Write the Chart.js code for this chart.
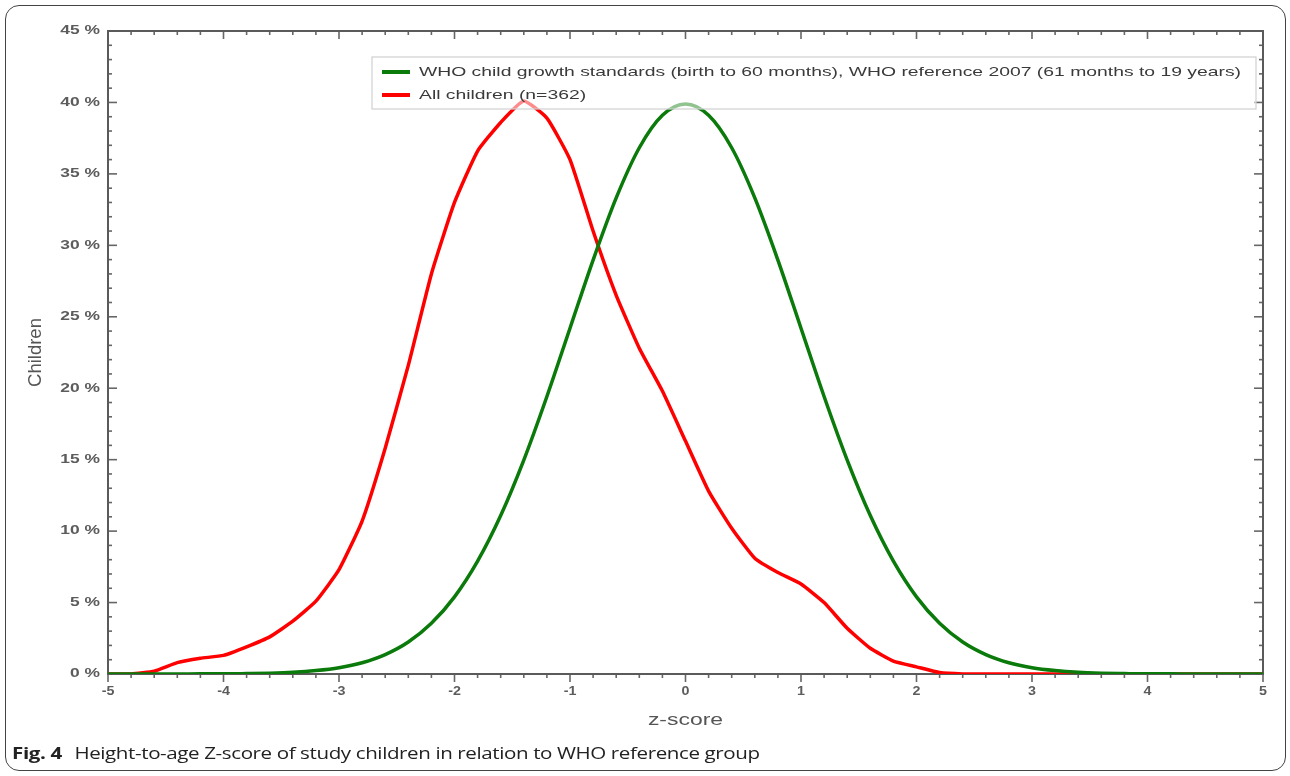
<!DOCTYPE html>
<html><head><meta charset="utf-8">
<script src="https://cdn.jsdelivr.net/npm/chart.js@4.4.1/dist/chart.umd.min.js"></script>
<style>
html,body{margin:0;padding:0;background:#fff;}
#wrap{position:relative;width:1290px;height:776px;overflow:hidden;background:#fff;}
#frame{position:absolute;left:5px;top:5px;width:1281px;height:766px;border:1.5px solid #444;border-radius:14px;box-sizing:border-box;}
#c{position:absolute;left:0;top:0;}
#cap{position:absolute;left:12px;top:742px;font-family:"Open Sans","Noto Sans",sans-serif;font-size:16px;color:#222;white-space:nowrap;letter-spacing:-0.3px;transform-origin:0 0;}
#cap b{font-weight:700;margin-right:6px;}
</style></head>
<body>
<div id="wrap">
<div id="frame"></div>
<canvas id="c" width="1290" height="776"></canvas>
<div id="cap"><b>Fig. 4</b> Height-to-age Z-score of study children in relation to WHO reference group</div>
</div>
<script>
// z-score categories (step 0.2)
const zScores = [-5,-4.8,-4.6,-4.4,-4.2,-4,-3.8,-3.6,-3.4,-3.2,-3,-2.8,-2.6,-2.4,-2.2,-2,-1.8,-1.6,-1.4,-1.2,-1,-0.8,-0.6,-0.4,-0.2,0,0.2,0.4,0.6,0.8,1,1.2,1.4,1.6,1.8,2,2.2,2.4,2.6,2.8,3,3.2,3.4,3.6,3.8,4,4.2,4.4,4.6,4.8,5];
// WHO reference (% of children)
const whoValues = [0,0,0,0,0.01,0.01,0.03,0.06,0.12,0.24,0.44,0.79,1.36,2.24,3.55,5.40,7.90,11.09,14.97,19.42,24.20,28.97,33.32,36.83,39.10,39.89,39.10,36.83,33.32,28.97,24.20,19.42,14.97,11.09,7.90,5.40,3.55,2.24,1.36,0.79,0.44,0.24,0.12,0.06,0.03,0.01,0.01,0,0,0,0];
// All children (n=362), % of children
const childValues = [0,0,0.2,0.8,1.1,1.3,1.9,2.6,3.7,5.1,7.3,10.7,15.8,21.6,28.0,33.0,36.6,38.6,40.1,38.9,36.0,31.0,26.5,22.8,19.8,16.3,12.8,10.2,8.1,7.1,6.3,5.0,3.2,1.8,0.9,0.5,0.1,0,0,0,0,0,0,0,0,0,0,0,0,0,0];
const seriesLabels = ["WHO child growth standards (birth to 60 months), WHO reference 2007 (61 months to 19 years)", "All children (n=362)"];
const xAxisTitle = "z-score";
const yAxisTitle = "Children";

const pts = vals => zScores.map((z,i)=>({x:z,y:vals[i]}));
const FONT = '"Liberation Sans", Arial, sans-serif';

function sText(ctx,text,x,y,sx,align){
  ctx.save();ctx.translate(x,y);ctx.scale(sx,1);ctx.textAlign=align;ctx.fillText(text,0,0);ctx.restore();
}

const decor = {
  id:'decor',
  beforeDatasetsDraw(c){
    const ctx=c.ctx,a=c.chartArea,xs=c.scales.x,ys=c.scales.y;
    ctx.save();
    ctx.strokeStyle='#666';ctx.lineWidth=1.6;
    const ln=(x1,y1,x2,y2)=>{ctx.beginPath();ctx.moveTo(x1,y1);ctx.lineTo(x2,y2);ctx.stroke();};
    for(let i=0;i<=50;i++){
      const px=xs.getPixelForValue(xs.min+i*0.2);
      const major=i%5===0, len=major?8:4;
      ln(px,a.bottom,px,a.bottom+len);
      ln(px,a.top,px,a.top+len);
    }
    for(let i=0;i<=45;i++){
      const py=ys.getPixelForValue(i);
      const major=i%5===0, len=major?9:4;
      ln(a.left,py,a.left+len,py);
      ln(a.right,py,a.right-len,py);
    }
    ctx.strokeStyle='#5a5a5a';ctx.lineWidth=2;
    ctx.strokeRect(a.left,a.top,a.right-a.left,a.bottom-a.top);
    // tick labels from the library's scales
    ctx.fillStyle='#5c5c5c';ctx.textBaseline='middle';
    ctx.font='bold 12px '+FONT;
    ys.ticks.forEach(t=>sText(ctx,t.value+' %',a.left-8,ys.getPixelForValue(t.value),1.45,'right'));
    ctx.font='bold 13px '+FONT;
    xs.ticks.forEach(t=>sText(ctx,String(t.value),xs.getPixelForValue(t.value),691,1.1,'center'));
    // axis titles
    ctx.fillStyle='#555';
    ctx.font='17px '+FONT;
    sText(ctx,xAxisTitle,(a.left+a.right)/2,720,1.35,'center');
    ctx.translate(36,(a.top+a.bottom)/2);
    ctx.rotate(-Math.PI/2);
    ctx.font='18.5px '+FONT;
    ctx.textAlign='center';
    ctx.fillText(yAxisTitle,0,0);
    ctx.restore();
  },
  afterDatasetsDraw(c){
    const ctx=c.ctx;
    ctx.save();
    const bx=372,by=57,bw=884,bh=52;
    ctx.fillStyle='rgba(255,255,255,0.55)';
    ctx.fillRect(bx,by,bw,bh);
    ctx.strokeStyle='#d0d0d0';ctx.lineWidth=1.2;
    ctx.strokeRect(bx,by,bw,bh);
    ctx.font='13.5px '+FONT;
    ctx.textBaseline='middle';
    const w0=ctx.measureText(c.data.datasets[0].label).width;
    const sx=822/w0;
    c.data.datasets.forEach((d,i)=>{
      const y=by+15+i*23;
      ctx.strokeStyle=d.borderColor;ctx.lineWidth=4;
      ctx.beginPath();ctx.moveTo(382,y);ctx.lineTo(410,y);ctx.stroke();
      ctx.fillStyle='#3a3a3a';
      sText(ctx,d.label,419,y,sx,'left');
    });
    ctx.restore();
  }
};

new Chart(document.getElementById('c'),{
  type:'line',
  data:{datasets:[
    {label:seriesLabels[0],data:pts(whoValues),borderColor:'#0a7a0a',borderWidth:3.5,pointRadius:0,cubicInterpolationMode:'monotone',fill:false},
    {label:seriesLabels[1],data:pts(childValues),borderColor:'#ff0000',borderWidth:3.5,pointRadius:0,tension:0.15,fill:false}
  ]},
  options:{
    responsive:false,animation:false,
    layout:{padding:{top:31,right:27,left:0,bottom:0}},
    plugins:{legend:{display:false},tooltip:{enabled:false}},
    scales:{
      x:{type:'linear',min:-5,max:5,
        grid:{display:false,drawTicks:false},border:{display:false},
        ticks:{display:false,stepSize:1},
        afterFit(s){s.height=102;}},
      y:{min:0,max:45,
        grid:{display:false,drawTicks:false},border:{display:false},
        ticks:{display:false,stepSize:5},
        afterFit(s){s.width=108;}}
    }
  },
  plugins:[decor]
});
const cap=document.getElementById('cap');
cap.style.transform='scaleX('+(748/cap.offsetWidth)+')';
</script>
</body></html>
